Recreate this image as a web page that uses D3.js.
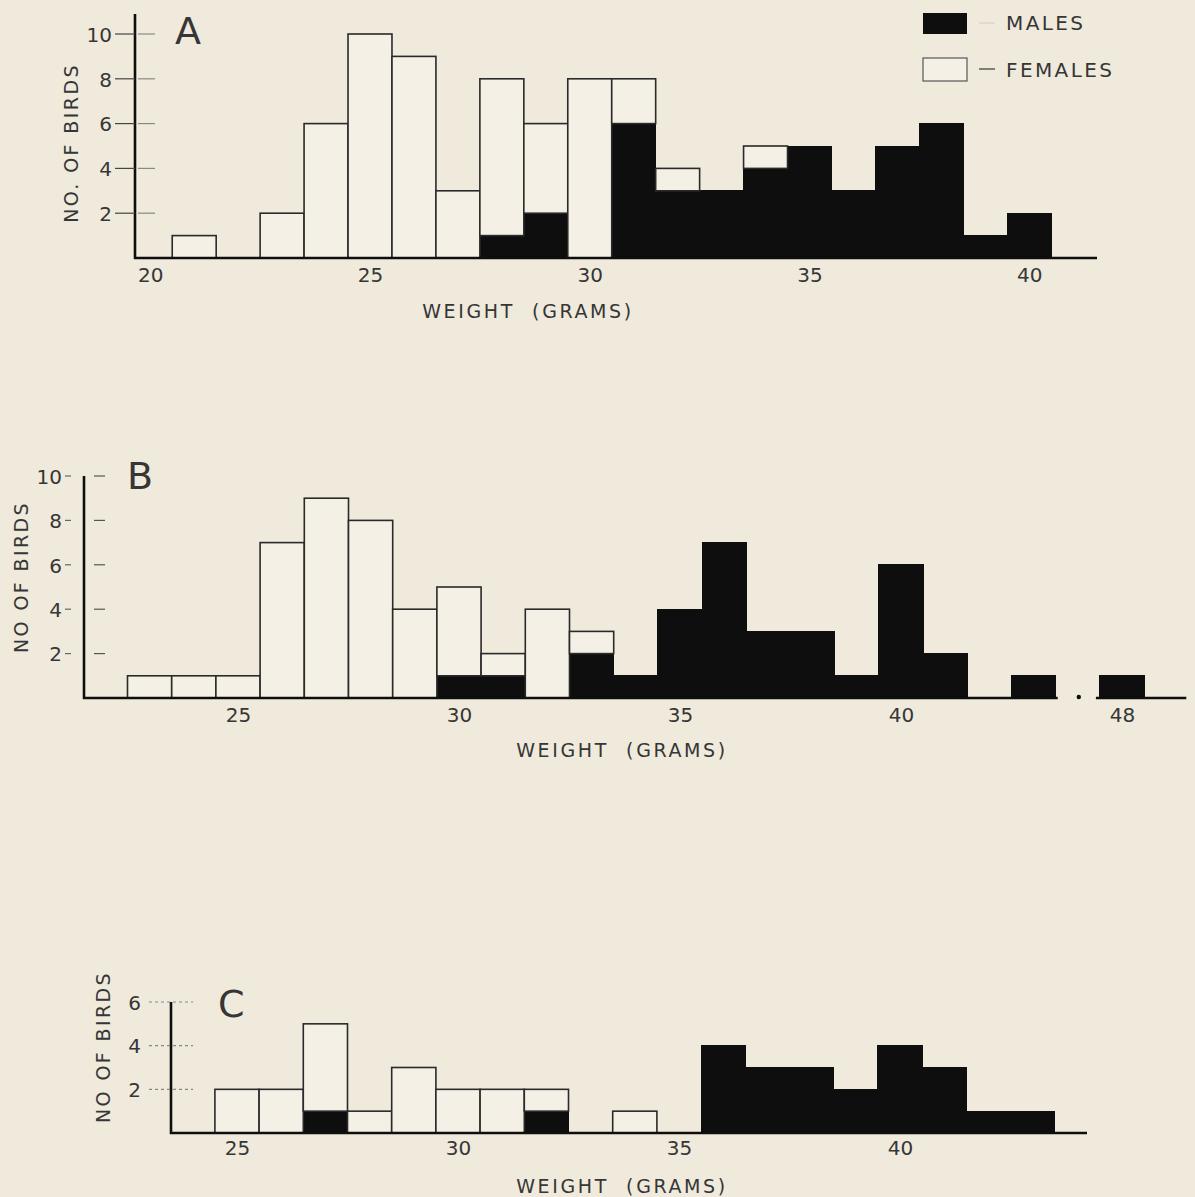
<!DOCTYPE html>
<html>
<head>
<meta charset="utf-8">
<script src="https://cdn.jsdelivr.net/npm/d3@7"></script>
<style>
  body { margin: 0; background: #efeadc; }
  svg { display: block; }
  text { font-family: "DejaVu Sans", sans-serif; fill: #363636; }
</style>
</head>
<body>
<svg width="1195" height="1197"></svg>
<script>
// panel A
var weightsA = [21, 22, 23, 24, 25, 26, 27, 28, 29, 30, 31, 32, 33, 34, 35, 36, 37, 38, 39, 40];
var malesA   = [0, 0, 0, 0, 0, 0, 0, 1, 2, 0, 6, 3, 3, 4, 5, 3, 5, 6, 1, 2];
var femalesA = [1, 0, 2, 6, 10, 9, 3, 7, 4, 8, 2, 1, 0, 1, 0, 0, 0, 0, 0, 0];
var ticksXA  = [20, 25, 30, 35, 40];
var ticksYA  = [2, 4, 6, 8, 10];

// panel B (axis broken between 43 and 48)
var weightsB = [23, 24, 25, 26, 27, 28, 29, 30, 31, 32, 33, 34, 35, 36, 37, 38, 39, 40, 41, 42, 43, 48];
var malesB   = [0, 0, 0, 0, 0, 0, 0, 1, 1, 0, 2, 1, 4, 7, 3, 3, 1, 6, 2, 0, 1, 1];
var femalesB = [1, 1, 1, 7, 9, 8, 4, 4, 1, 4, 1, 0, 0, 0, 0, 0, 0, 0, 0, 0, 0, 0];
var ticksXB  = [25, 30, 35, 40, 48];
var ticksYB  = [2, 4, 6, 8, 10];

// panel C
var weightsC = [25, 26, 27, 28, 29, 30, 31, 32, 33, 34, 35, 36, 37, 38, 39, 40, 41, 42, 43];
var malesC   = [0, 0, 1, 0, 0, 0, 0, 1, 0, 0, 0, 4, 3, 3, 2, 4, 3, 1, 1];
var femalesC = [2, 2, 4, 1, 3, 2, 2, 1, 0, 1, 0, 0, 0, 0, 0, 0, 0, 0, 0];
var ticksXC  = [25, 30, 35, 40];
var ticksYC  = [2, 4, 6];

var legendLabels = ["MALES", "FEMALES"];

var svg = d3.select("svg");
var ink = "#0e0e0e";
var paper = "#f4f0e5";

function drawPanel(p) {
  var g = svg.append("g");
  var x = p.x, y = p.y;

  var rows = p.weights.map(function(w, i) {
    return { w: w, m: p.males[i], f: p.females[i] };
  });

  // male (black) part, at the bottom
  g.selectAll("rect.male")
    .data(rows.filter(function(d) { return d.m > 0; }))
    .enter().append("rect")
      .attr("class", "male")
      .attr("x", function(d) { return x(d.w - 0.5); })
      .attr("width", function(d) { return x(d.w + 0.5) - x(d.w - 0.5); })
      .attr("y", function(d) { return y(d.m); })
      .attr("height", function(d) { return y(0) - y(d.m); })
      .attr("fill", ink)
      .attr("stroke", ink)
      .attr("stroke-width", 1)
      .attr("shape-rendering", "crispEdges");

  // female (open) part, stacked on top
  g.selectAll("rect.female")
    .data(rows.filter(function(d) { return d.f > 0; }))
    .enter().append("rect")
      .attr("class", "female")
      .attr("x", function(d) { return x(d.w - 0.5); })
      .attr("width", function(d) { return x(d.w + 0.5) - x(d.w - 0.5); })
      .attr("y", function(d) { return y(d.m + d.f); })
      .attr("height", function(d) { return y(d.m) - y(d.m + d.f); })
      .attr("fill", paper)
      .attr("stroke", "#2a2a2a")
      .attr("stroke-width", 1.6);

  // baseline
  p.baseline.forEach(function(seg) {
    g.append("line")
      .attr("x1", seg[0]).attr("x2", seg[1])
      .attr("y1", y(0)).attr("y2", y(0))
      .attr("stroke", ink).attr("stroke-width", 2.6);
  });

  // y axis line
  g.append("line")
    .attr("x1", p.axisX).attr("x2", p.axisX)
    .attr("y1", y(0) + 1).attr("y2", p.axisTop)
    .attr("stroke", ink).attr("stroke-width", 2.6);

  // x tick labels
  var xAxis = g.append("g")
    .attr("transform", "translate(0," + (y(0) + p.xLabelDy) + ")")
    .call(d3.axisBottom(x).tickValues(p.ticksX).tickSize(0).tickFormat(d3.format("d")));
  xAxis.select(".domain").remove();
  xAxis.selectAll("text")
    .attr("y", 0).attr("dy", "0.71em")
    .style("font-family", "DejaVu Sans, sans-serif")
    .style("font-size", "20px")
    .style("fill", "#363636");

  // y tick labels
  var yAxis = g.append("g")
    .attr("transform", "translate(" + p.yLabelX + ",0)")
    .call(d3.axisLeft(y).tickValues(p.ticksY).tickSize(0).tickFormat(d3.format("d")));
  yAxis.select(".domain").remove();
  yAxis.selectAll("text")
    .attr("x", 0).attr("dy", "0.36em")
    .style("font-family", "DejaVu Sans, sans-serif")
    .style("font-size", "20px")
    .style("fill", "#363636");

  // tick marks
  p.ticksY.forEach(function(t) {
    p.tickSegs.forEach(function(s) {
      g.append("line")
        .attr("x1", p.axisX + s[0]).attr("x2", p.axisX + s[1])
        .attr("y1", y(t)).attr("y2", y(t))
        .attr("stroke", s[2]).attr("stroke-width", 1.2)
        .attr("stroke-dasharray", s[3] || null);
    });
  });

  // panel letter
  g.append("text")
    .attr("x", p.letterPos[0]).attr("y", p.letterPos[1])
    .style("font-size", "38px")
    .text(p.letter);

  // axis titles
  g.append("text")
    .attr("x", p.xTitlePos[0]).attr("y", p.xTitlePos[1])
    .attr("text-anchor", "middle")
    .style("font-size", "19px")
    .style("letter-spacing", "2.6px")
    .attr("xml:space", "preserve")
    .text("WEIGHT  (GRAMS)");

  g.append("text")
    .attr("transform", "translate(" + p.yTitlePos[0] + "," + p.yTitlePos[1] + ") rotate(-90)")
    .attr("text-anchor", "middle")
    .style("font-size", "19px")
    .style("letter-spacing", "2.4px")
    .attr("xml:space", "preserve")
    .text(p.yTitle);

  return g;
}

// A
var xA = d3.scaleLinear().domain([25, 40]).range([370, 370 + 15 * 43.95]);
var yA = d3.scaleLinear().domain([0, 10]).range([258, 34]);
drawPanel({
  weights: weightsA, males: malesA, females: femalesA,
  ticksX: ticksXA, ticksY: ticksYA, x: xA, y: yA,
  axisX: 135, axisTop: 14,
  baseline: [[134, 1097]],
  xLabelDy: 10, yLabelX: 112,
  tickSegs: [[-20, 0, "#444"], [3, 20, "#888"]],
  letter: "A", letterPos: [175, 44],
  xTitlePos: [528, 318],
  yTitle: "NO. OF BIRDS", yTitlePos: [78, 143]
});

// B
var xB0 = d3.scaleLinear().domain([25, 40]).range([238, 238 + 15 * 44.2]);
var xB = d3.scaleLinear()
  .domain([21.5, 44.5, 47.5, 49.5])
  .range([xB0(21.5), xB0(44.5), xB0(44.5), xB0(46.5)]);
var yB = d3.scaleLinear().domain([0, 10]).range([698, 476]);
drawPanel({
  weights: weightsB, males: malesB, females: femalesB,
  ticksX: ticksXB, ticksY: ticksYB, x: xB, y: yB,
  axisX: 84, axisTop: 476,
  baseline: [[83, xB(43.5) + 2], [xB(47.5) - 4, xB(49.5) - 2]],
  xLabelDy: 10, yLabelX: 62,
  tickSegs: [[-19, -13, "#666"], [10, 21, "#555"]],
  letter: "B", letterPos: [127, 489],
  xTitlePos: [622, 757],
  yTitle: "NO OF BIRDS", yTitlePos: [28, 577]
});
// break dot
svg.append("circle")
  .attr("cx", (xB(43.5) + xB(47.5)) / 2 + 1).attr("cy", yB(0) - 1)
  .attr("r", 2.2).attr("fill", ink);

// C
var xC = d3.scaleLinear().domain([25, 40]).range([237, 237 + 15 * 44.2]);
var yC = d3.scaleLinear().domain([0, 6]).range([1133, 1002]);
drawPanel({
  weights: weightsC, males: malesC, females: femalesC,
  ticksX: ticksXC, ticksY: ticksYC, x: xC, y: yC,
  axisX: 171, axisTop: 1002,
  baseline: [[170, 1087]],
  xLabelDy: 8, yLabelX: 141,
  tickSegs: [[-22, 22, "#888", "3,3"]],
  letter: "C", letterPos: [218, 1017],
  xTitlePos: [622, 1193],
  yTitle: "NO OF BIRDS", yTitlePos: [110, 1047]
});

// legend
var legend = svg.append("g");
legend.append("rect")
  .attr("x", 923).attr("y", 13).attr("width", 44).attr("height", 21)
  .attr("fill", ink);
legend.append("rect")
  .attr("x", 923).attr("y", 58).attr("width", 44).attr("height", 23)
  .attr("fill", paper).attr("stroke", "#555").attr("stroke-width", 1.2);
legend.append("line")
  .attr("x1", 979).attr("x2", 995).attr("y1", 23).attr("y2", 23)
  .attr("stroke", "#ddd6c6").attr("stroke-width", 1.5);
legend.append("line")
  .attr("x1", 979).attr("x2", 995).attr("y1", 69).attr("y2", 69)
  .attr("stroke", "#444").attr("stroke-width", 1.3);
legend.selectAll("text.lg")
  .data(legendLabels)
  .enter().append("text")
    .attr("class", "lg")
    .attr("x", 1006)
    .attr("y", function(d, i) { return 30 + i * 47; })
    .style("font-size", "20px")
    .style("letter-spacing", "2.4px")
    .text(function(d) { return d; });
</script>
</body>
</html>
